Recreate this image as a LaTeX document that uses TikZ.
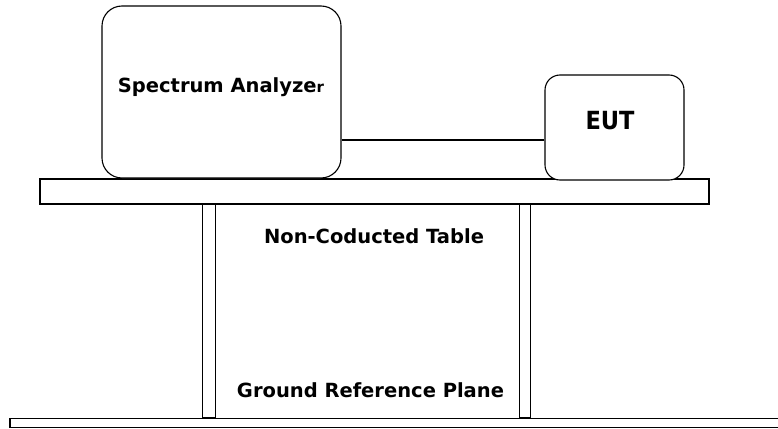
\documentclass[tikz,border=0pt]{standalone}
\usepackage{fontspec}
\setmainfont{DejaVu Sans}
\newfontfamily\narrowfont{DejaVu Sans Condensed}
\usetikzlibrary{positioning}

\begin{document}
\begin{tikzpicture}[x=1pt,y=-1pt,line width=1.1pt,
		font=\bfseries\fontsize{19.5}{22}\selectfont]
		\tikzstyle{device}=[draw=black,fill=white,inner sep=0pt]
		\tikzstyle{plank}=[draw=black,fill=white,inner sep=0pt]
		\useasboundingbox (0,0) rectangle (778,428);
		% legs, table and floor
		\node[plank,minimum width=12.5pt,minimum height=214pt] (L1) at (209,311) {};
		\node[plank,minimum width=10.5pt,minimum height=214pt] (L2) at (525,311) {};
		\node[plank,minimum width=669pt,minimum height=25pt] (T) at (374.5,191.5) {};
		\node[plank,minimum width=790pt,minimum height=9.5pt] (G) at (405,422.8) {};
		% devices on the table
		\node[device,rounded corners=20pt,minimum width=239pt,minimum height=172pt] (SA) at (221.5,92) {};
		\node[device,rounded corners=15pt,minimum width=139pt,minimum height=105pt] (EUT) at (614.5,127.5) {};
		\draw ([yshift=-12.5pt]EUT.west) -- ([yshift=-12.5pt]EUT.west -| SA.east);
		% labels
		\node (SAl) at (221,87) {Spectrum Analyze{\fontsize{15}{18}\selectfont r}};
		\node[font=\narrowfont\bfseries\fontsize{25}{28}\selectfont] (EUTl) at (610,121) {EUT};
		\node (Tl) at (374,236) {Non-Coducted Table};
		\node (Gl) at (370.5,390) {Ground Reference Plane};
	\end{tikzpicture}
\end{document}
